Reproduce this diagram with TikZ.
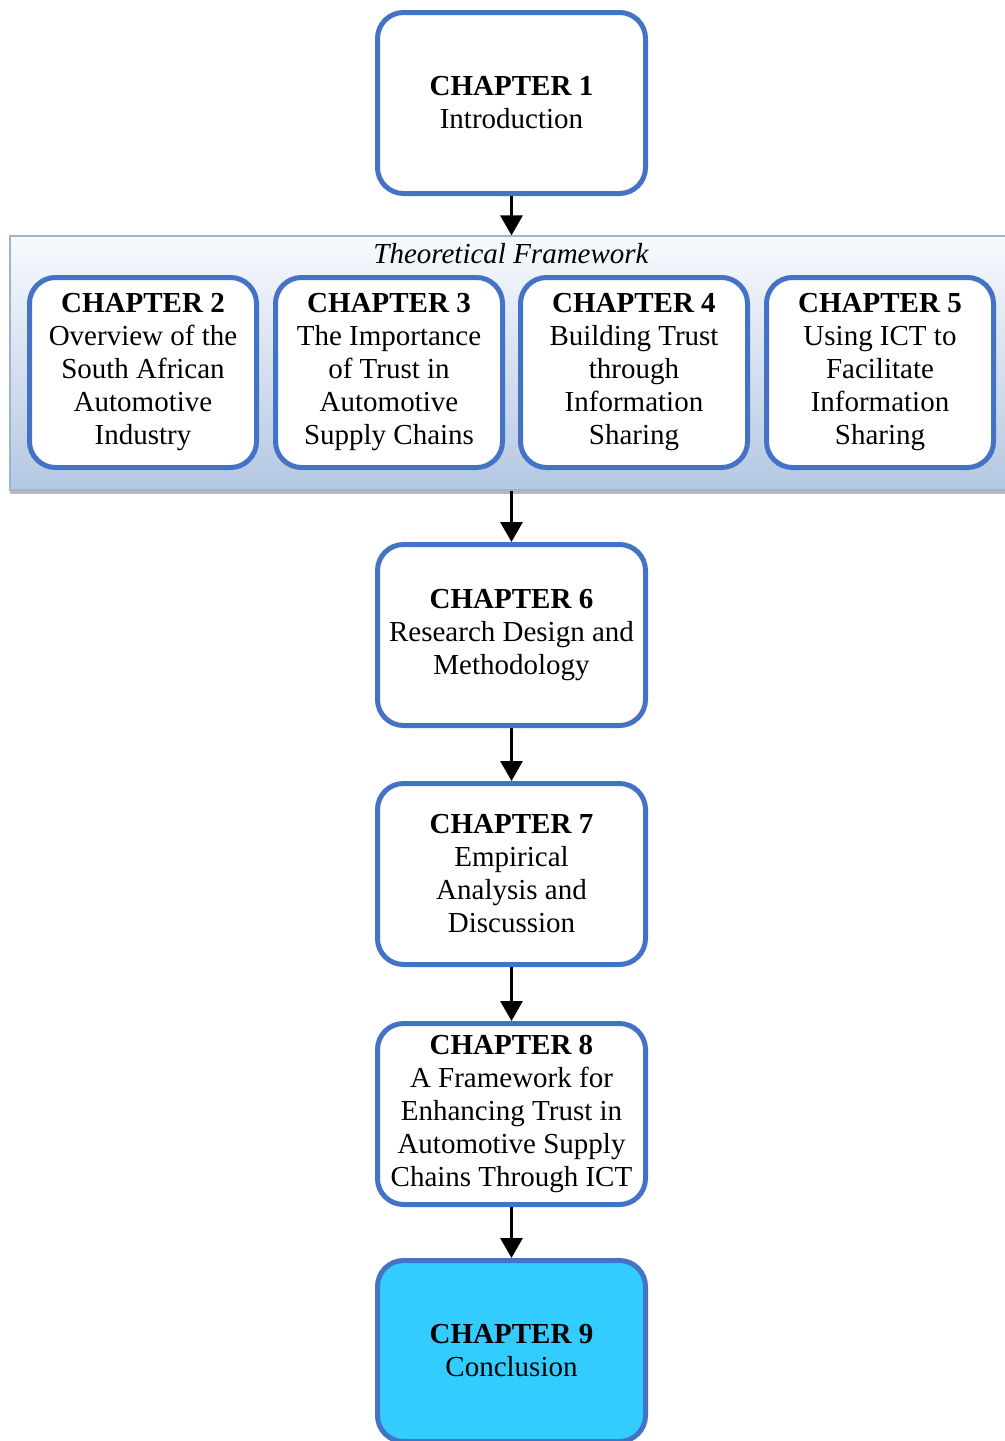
\documentclass[tikz,border=0pt]{standalone}
\usepackage{fontspec}
\setmainfont{Liberation Serif}
\usetikzlibrary{arrows.meta,shadows}
\definecolor{bord}{HTML}{4472C4}
\definecolor{cyanfill}{HTML}{33CCFF}
\definecolor{paneltop}{HTML}{F8FAFD}
\definecolor{panelbot}{HTML}{B4C8E2}
\definecolor{panelline}{HTML}{9DB3CF}
\begin{document}
\begin{tikzpicture}[x=0.5pt,y=-0.5pt,
  chap/.style={draw=bord, line width=2.5pt, rounded corners=13pt, fill=white, align=center, inner sep=0pt, font=\fontsize{14.5}{16.5}\selectfont},
  big/.style={chap, minimum width=134pt, minimum height=90.5pt},
  small/.style={chap, minimum width=113.5pt, minimum height=95pt},
  arr/.style={line width=1.5pt, -{Triangle[length=10pt,width=11pt]}}]
\clip (0,0) rectangle (1005,1441);
\fill[white] (0,0) rectangle (1005,1441);
% panel
\node[draw=panelline, line width=0.6pt, top color=paneltop, bottom color=panelbot,
  minimum width=502.5pt, minimum height=127pt, inner sep=0pt,
  drop shadow={shadow xshift=0pt, shadow yshift=-2pt, fill=gray!55, opacity=1}]
  (panel) at (512.5,363) {};
\node[font=\fontsize{14.5}{16.5}\selectfont\itshape] (tf) at (511,254) {Theoretical Framework};
% chapters
\node[big] (c1) at (511.5,103) {\textbf{CHAPTER 1}\\Introduction};
\node[small] (c2) at (143,372.5) {\textbf{CHAPTER 2}\\Overview of the\\South African\\Automotive\\Industry};
\node[small] (c3) at (389,372.5) {\textbf{CHAPTER 3}\\The Importance\\of Trust in\\Automotive\\Supply Chains};
\node[small] (c4) at (634,372.5) {\textbf{CHAPTER 4}\\Building Trust\\through\\Information\\Sharing};
\node[small] (c5) at (880,372.5) {\textbf{CHAPTER 5}\\Using ICT to\\Facilitate\\Information\\Sharing};
\node[big] (c6) at (511.5,635) {\textbf{CHAPTER 6}\\Research Design and\\Methodology};
\node[big] (c7) at (511.5,874) {\textbf{CHAPTER 7}\\Empirical\\Analysis and\\Discussion};
\node[big] (c8) at (511.5,1114) {\textbf{CHAPTER 8}\\A Framework for\\Enhancing Trust in\\Automotive Supply\\Chains Through ICT};
\node[big, fill=cyanfill] (c9) at (511.5,1351) {\textbf{CHAPTER 9}\\Conclusion};
% arrows
\draw[arr] (c1) -- (c1 |- panel.north);
\draw[arr] (c1 |- panel.south) -- (c6);
\draw[arr] (c6) -- (c7);
\draw[arr] (c7) -- (c8);
\draw[arr] (c8) -- (c9);
\end{tikzpicture}
\end{document}
